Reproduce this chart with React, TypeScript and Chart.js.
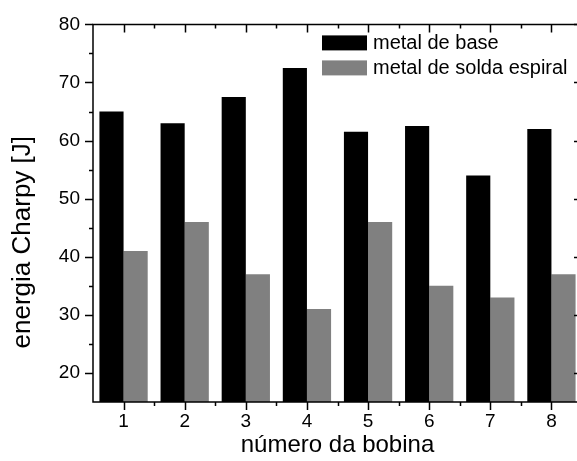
import React, { useEffect, useRef } from 'react';
import { Chart, registerables } from 'chart.js';

Chart.register(...registerables);

const categories = ['1', '2', '3', '4', '5', '6', '7', '8'];
const baseMetal = [65, 63, 67.5, 72.5, 61.5, 62.5, 54, 62];
const weldMetal = [41, 46, 37, 31, 46, 35, 33, 37];
const yTicks = [20, 30, 40, 50, 60, 70, 80];
const yMinorTicks = [25, 35, 45, 55, 65, 75];
const seriesLabels = ['metal de base', 'metal de solda espiral'];
const seriesColors = ['#000000', '#808080'];
const xTitle = 'número da bobina';
const yTitle = 'energia Charpy [J]';

const FONT = '"Liberation Sans", Arial, sans-serif';

const framePlugin = {
  id: 'frame',
  afterDatasetsDraw(chart: any) {
    const { ctx, chartArea, scales } = chart;
    const { left, right, top, bottom } = chartArea;
    const x = scales.x;
    const y = scales.y;
    ctx.save();
    ctx.strokeStyle = '#000';
    ctx.lineWidth = 1.5;
    ctx.beginPath();
    ctx.moveTo(right, top);
    ctx.lineTo(left, top);
    ctx.lineTo(left, bottom);
    ctx.lineTo(right, bottom);
    ctx.stroke();
    ctx.beginPath();
    yTicks.forEach((v) => {
      const py = Math.round(y.getPixelForValue(v)) + 0.5;
      ctx.moveTo(left - 8, py);
      ctx.lineTo(left, py);
      ctx.moveTo(right, py);
      ctx.lineTo(right - 8, py);
    });
    yMinorTicks.forEach((v) => {
      const py = Math.round(y.getPixelForValue(v)) + 0.5;
      ctx.moveTo(left - 4, py);
      ctx.lineTo(left, py);
    });
    categories.forEach((_, i) => {
      const px = Math.round(x.getPixelForValue(i)) + 0.5;
      ctx.moveTo(px, bottom);
      ctx.lineTo(px, bottom + 8);
      ctx.moveTo(px, top);
      ctx.lineTo(px, top + 8);
      if (i < categories.length - 1) {
        const pm = Math.round((x.getPixelForValue(i) + x.getPixelForValue(i + 1)) / 2) + 0.5;
        ctx.moveTo(pm, bottom);
        ctx.lineTo(pm, bottom + 4);
        ctx.moveTo(pm, top);
        ctx.lineTo(pm, top + 4);
      }
    });
    ctx.stroke();
    ctx.restore();
  },
};

const legendPlugin = {
  id: 'insideLegend',
  afterDraw(chart: any) {
    const { ctx, chartArea } = chart;
    const bx = chartArea.left + 229;
    const by = chartArea.top + 11;
    ctx.save();
    ctx.font = `20px ${FONT}`;
    ctx.textBaseline = 'middle';
    ctx.textAlign = 'left';
    chart.data.datasets.forEach((ds: any, i: number) => {
      const yy = by + i * 25;
      ctx.fillStyle = ds.backgroundColor;
      ctx.fillRect(bx, yy, 45, 15);
      ctx.fillStyle = '#000';
      ctx.fillText(ds.label, bx + 51, yy + 8);
    });
    ctx.restore();
  },
};

const yTitlePlugin = {
  id: 'yTitle',
  afterDraw(chart: any) {
    const { ctx, chartArea } = chart;
    const cy = (chartArea.top + chartArea.bottom) / 2 + 29;
    ctx.save();
    ctx.translate(23, cy);
    ctx.rotate(-Math.PI / 2);
    ctx.font = `26px ${FONT}`;
    ctx.fillStyle = '#000';
    ctx.textAlign = 'center';
    ctx.textBaseline = 'middle';
    ctx.fillText(yTitle, 0, 0);
    ctx.restore();
  },
};

export default function App() {
  const ref = useRef<HTMLCanvasElement>(null);

  useEffect(() => {
    if (!ref.current) return;
    const chart = new Chart(ref.current, {
      type: 'bar',
      data: {
        labels: categories,
        datasets: [
          { label: seriesLabels[0], data: baseMetal, backgroundColor: seriesColors[0], borderWidth: 0 },
          { label: seriesLabels[1], data: weldMetal, backgroundColor: seriesColors[1], borderWidth: 0 },
        ],
      },
      options: {
        animation: false,
        responsive: false,
        devicePixelRatio: 1,
        layout: { padding: { top: 21, right: 18, left: 0, bottom: 0 } },
        datasets: { bar: { barPercentage: 1, categoryPercentage: 0.79 } },
        plugins: { legend: { display: false }, tooltip: { enabled: false } },
        scales: {
          x: {
            offset: true,
            grid: { display: false, drawTicks: false },
            border: { display: false },
            ticks: { color: '#000', font: { family: FONT, size: 19 }, padding: 8 },
            title: { display: true, text: xTitle, color: '#000', font: { family: FONT, size: 24 }, padding: { top: 0, bottom: 1 } },
            afterFit: (s: any) => { s.height = 59; },
          },
          y: {
            min: 15,
            max: 80,
            grid: { display: false, drawTicks: false },
            border: { display: false },
            ticks: { color: '#000', font: { family: FONT, size: 19 }, padding: 13 },
            afterBuildTicks: (s: any) => { s.ticks = yTicks.map((v) => ({ value: v })); },
            title: { display: false, text: yTitle },
            afterFit: (s: any) => { s.width = 93; },
          },
        },
      },
      plugins: [framePlugin, legendPlugin, yTitlePlugin],
    });
    return () => chart.destroy();
  }, []);

  return (
    <div style={{ position: 'fixed', left: 0, top: 0, width: 577, height: 461, overflow: 'hidden', background: '#fff' }}>
      <canvas ref={ref} width={600} height={461} style={{ display: 'block', width: 600, height: 461, maxWidth: 'none' }} />
    </div>
  );
}
